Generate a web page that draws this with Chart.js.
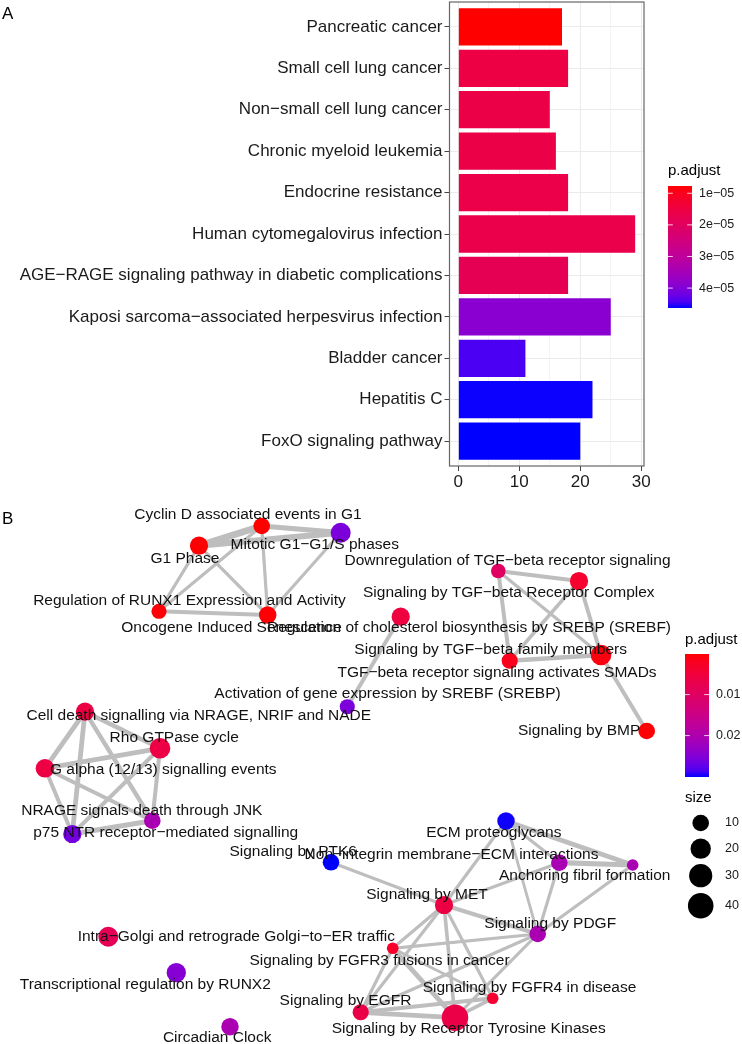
<!DOCTYPE html>
<html>
<head>
<meta charset="utf-8">
<script src="https://cdn.jsdelivr.net/npm/chart.js@4.4.1/dist/chart.umd.min.js"></script>
<style>
   html, body { margin: 0; padding: 0; background: #fff; }
   body { width: 742px; height: 1044px; position: relative; overflow: hidden; font-family: "Liberation Sans", Arial, sans-serif; }
   .caixa { position: absolute; left: 0; }
   #caixaA { top: 0; }
   #caixaB { top: 500px; }
   .letra { position: absolute; left: 2px; font-size: 17px; color: #000; }
</style>
</head>
<body>
<div class="caixa" id="caixaA"><canvas id="graficoA" width="742" height="492"></canvas></div>
<div class="caixa" id="caixaB"><canvas id="graficoB" width="742" height="544"></canvas></div>
<div class="letra" style="top:4px">A</div>
<div class="letra" style="top:509px">B</div>
<script>
// Dados do painel A (barplot de enriquecimento KEGG)
const termos = ['Pancreatic cancer', 'Small cell lung cancer', 'Non−small cell lung cancer', 'Chronic myeloid leukemia',
   'Endocrine resistance', 'Human cytomegalovirus infection', 'AGE−RAGE signaling pathway in diabetic complications',
   'Kaposi sarcoma−associated herpesvirus infection', 'Bladder cancer', 'Hepatitis C', 'FoxO signaling pathway'];
const contagem = [17, 18, 15, 16, 18, 29, 18, 25, 11, 22, 20];
const pAjustA = [7.7e-6, 1.55e-5, 1.6e-5, 1.6e-5, 1.62e-5, 1.66e-5, 1.8e-5, 3.9e-5, 4.44e-5, 4.62e-5, 4.63e-5];
const ticksA = [0, 10, 20, 30];
const ticksLegendaA = [1e-5, 2e-5, 3e-5, 4e-5];

// Dados do painel B (mapa de enriquecimento Reactome)
const vias = ['Cyclin D associated events in G1', 'Mitotic G1−G1/S phases', 'G1 Phase',
   'Regulation of RUNX1 Expression and Activity', 'Oncogene Induced Senescence',
   'Downregulation of TGF−beta receptor signaling', 'Signaling by TGF−beta Receptor Complex',
   'Regulation of cholesterol biosynthesis by SREBP (SREBF)', 'Signaling by TGF−beta family members',
   'TGF−beta receptor signaling activates SMADs', 'Signaling by BMP', 'Activation of gene expression by SREBF (SREBP)',
   'Cell death signalling via NRAGE, NRIF and NADE', 'Rho GTPase cycle', 'G alpha (12/13) signalling events',
   'NRAGE signals death through JNK', 'p75 NTR receptor−mediated signalling', 'Signaling by PTK6',
   'Intra−Golgi and retrograde Golgi−to−ER traffic', 'Transcriptional regulation by RUNX2', 'Circadian Clock',
   'ECM proteoglycans', 'Non−integrin membrane−ECM interactions', 'Anchoring fibril formation', 'Signaling by MET',
   'Signaling by PDGF', 'Signaling by FGFR3 fusions in cancer', 'Signaling by FGFR4 in disease',
   'Signaling by Receptor Tyrosine Kinases', 'Signaling by EGFR'];
// coordenadas do layout (unidades arbitrarias)
const posX = [26.17, 34.07, 19.90, 15.90, 26.77, 49.83, 57.90, 40.07, 50.97, 60.10, 64.67, 34.73, 8.50, 16.00, 4.50,
   15.23, 7.23, 33.10, 10.83, 17.63, 23.00, 50.60, 55.93, 63.27, 44.40, 53.77, 39.27, 49.27, 45.50, 36.07];
const posY = [2.60, 3.27, 4.57, 11.13, 11.50, 7.10, 8.10, 11.67, 16.07, 15.50, 23.10, 20.67, 21.17, 24.83, 26.83,
   32.07, 33.40, 36.23, 43.67, 47.27, 52.67, 32.10, 36.27, 36.50, 40.50, 43.40, 44.83, 49.83, 51.77, 51.23];
const tamanho = [10, 19, 14, 7, 12, 6, 14, 14, 9, 21, 10, 7, 14, 21, 15, 10, 14, 10, 19, 17, 12, 12, 10, 2, 14, 10, 2, 2, 44, 9];
const pAjustB = [0.0001, 0.0256, 0.0002, 0.0004, 0.0003, 0.0100, 0.0036, 0.0055, 0.0018, 0.0009, 0.0003, 0.0256,
   0.0060, 0.0062, 0.0061, 0.0205, 0.0262, 0.0301, 0.0085, 0.0247, 0.0205, 0.0300, 0.0206, 0.0207, 0.0060, 0.0205,
   0.0030, 0.0036, 0.0066, 0.0066];
// posicao dos rotulos (repel) no mesmo sistema do layout
const rotuloX = [24.80, 31.47, 18.50, 18.95, 23.16, 50.75, 50.88, 46.90, 49.07, 49.70, 57.92, 38.75, 19.88, 17.42, 16.33,
   14.18, 16.57, 29.32, 23.63, 14.53, 21.72, 49.38, 45.15, 58.47, 42.70, 55.02, 37.95, 52.95, 46.87, 34.55];
const rotuloY = [1.50, 4.50, 5.83, 10.10, 12.77, 6.10, 9.23, 12.77, 15.00, 17.23, 23.10, 19.40, 21.60, 23.73, 27.00,
   31.07, 33.23, 35.17, 43.67, 48.43, 53.77, 33.27, 35.50, 37.60, 39.43, 42.33, 46.07, 48.77, 52.90, 50.10];
// arestas: [no, no, similaridade]
const arestas = [
   [2, 0, .85], [2, 1, .75], [0, 1, .65], [2, 3, .4], [2, 4, .4], [0, 3, .4], [0, 4, .4], [1, 4, .4], [3, 4, .5],
   [5, 6, .5], [5, 8, .5], [5, 9, .4], [6, 8, .45], [6, 9, .5], [8, 9, .55], [9, 10, .5],
   [7, 11, .5],
   [12, 13, .55], [12, 14, .6], [12, 15, .55], [12, 16, .6], [13, 14, .6], [13, 15, .5], [13, 16, .5], [14, 15, .5],
   [14, 16, .5], [15, 16, .65],
   [17, 24, .4], [21, 23, .6], [22, 23, .65], [21, 22, .4], [21, 24, .4], [21, 25, .35], [22, 24, .4], [22, 25, .4],
   [23, 25, .4], [24, 25, .5], [24, 26, .4], [24, 29, .4], [24, 28, .45], [24, 27, .4], [26, 25, .4], [26, 28, .6],
   [26, 27, .35], [26, 29, .4], [25, 29, .4], [25, 28, .4], [29, 28, .6], [29, 27, .5], [28, 27, .45]
];
const ticksLegendaB = [0.01, 0.02];
const tamanhosLegenda = [10, 20, 30, 40];

const fonte = '"Liberation Sans", Arial, sans-serif';

// Gradiente vermelho -> azul em espaco Lab (como o ggplot)
function paraLinear(c) {
   c /= 255;
   return c <= 0.04045 ? c / 12.92 : Math.pow((c + 0.055) / 1.055, 2.4);
}
function paraSrgb(c) {
   const v = c <= 0.0031308 ? 12.92 * c : 1.055 * Math.pow(c, 1 / 2.4) - 0.055;
   return Math.round(Math.max(0, Math.min(1, v)) * 255);
}
function paraLab(r, g, b) {
   const R = paraLinear(r), G = paraLinear(g), B = paraLinear(b);
   const X = (0.4124564 * R + 0.3575761 * G + 0.1804375 * B) / 0.95047;
   const Y = 0.2126729 * R + 0.7151522 * G + 0.0721750 * B;
   const Z = (0.0193339 * R + 0.1191920 * G + 0.9503041 * B) / 1.08883;
   const f = t => t > 216 / 24389 ? Math.cbrt(t) : (24389 / 27 * t + 16) / 116;
   const fx = f(X), fy = f(Y), fz = f(Z);
   return [116 * fy - 16, 500 * (fx - fy), 200 * (fy - fz)];
}
function deLab(L, a, b) {
   const fy = (L + 16) / 116, fx = fy + a / 500, fz = fy - b / 200;
   const inv = t => t * t * t > 216 / 24389 ? t * t * t : (116 * t - 16) / (24389 / 27);
   const X = inv(fx) * 0.95047, Y = inv(fy), Z = inv(fz) * 1.08883;
   const R = 3.2404542 * X - 1.5371385 * Y - 0.4985314 * Z;
   const G = -0.9692660 * X + 1.8760108 * Y + 0.0415560 * Z;
   const B = 0.0556434 * X - 0.2040259 * Y + 1.0572252 * Z;
   return `rgb(${paraSrgb(R)},${paraSrgb(G)},${paraSrgb(B)})`;
}
const labVermelho = paraLab(255, 0, 0);
const labAzul = paraLab(0, 0, 255);
function corGradiente(t) {
   t = Math.max(0, Math.min(1, t));
   return deLab(
      labVermelho[0] + (labAzul[0] - labVermelho[0]) * t,
      labVermelho[1] + (labAzul[1] - labVermelho[1]) * t,
      labVermelho[2] + (labAzul[2] - labVermelho[2]) * t);
}

// Desenha a barra de cor da legenda p.adjust
function desenhaBarraCor(ctx, c, pMin, pMax, ticks, formata) {
   ctx.save();
   ctx.font = `15px ${fonte}`;
   ctx.fillStyle = '#000';
   ctx.textAlign = 'left';
   ctx.textBaseline = 'alphabetic';
   ctx.fillText('p.adjust', c.x, c.tituloY);
   const grad = ctx.createLinearGradient(0, c.y, 0, c.y + c.h);
   for (let i = 0; i <= 20; i++) grad.addColorStop(i / 20, corGradiente(i / 20));
   ctx.fillStyle = grad;
   ctx.fillRect(c.x, c.y, c.w, c.h);
   ctx.font = `12.5px ${fonte}`;
   ctx.textBaseline = 'middle';
   ticks.forEach(v => {
      const yy = c.y + (v - pMin) / (pMax - pMin) * c.h;
      ctx.strokeStyle = 'rgba(255,255,255,0.8)';
      ctx.lineWidth = 1;
      ctx.beginPath();
      ctx.moveTo(c.x, yy); ctx.lineTo(c.x + c.w / 5, yy);
      ctx.moveTo(c.x + c.w, yy); ctx.lineTo(c.x + c.w * 4 / 5, yy);
      ctx.stroke();
      ctx.fillStyle = '#1a1a1a';
      ctx.fillText(formata(v), c.x + c.w + 7, yy);
   });
   ctx.restore();
}

// ---------- Painel A ----------
const pMinA = Math.min(...pAjustA);
const pMaxA = Math.max(...pAjustA);
const coresA = pAjustA.map(p => corGradiente((p - pMinA) / (pMaxA - pMinA)));

const bordaPainel = {
   id: 'bordaPainel',
   afterDatasetsDraw(chart) {
      const { ctx, chartArea: a } = chart;
      ctx.save();
      ctx.strokeStyle = '#666';
      ctx.lineWidth = 1.2;
      ctx.strokeRect(a.left, a.top, a.right - a.left, a.bottom - a.top);
      ctx.restore();
   }
};
const legendaA = {
   id: 'legendaA',
   afterDraw(chart) {
      desenhaBarraCor(chart.ctx, { x: 668, y: 186, w: 24, h: 122, tituloY: 175 }, pMinA, pMaxA, ticksLegendaA,
         v => v.toExponential(0).replace('e-', 'e−0'));
   }
};

const chartA = new Chart(document.getElementById('graficoA'), {
   type: 'bar',
   data: {
      datasets: [{
         data: contagem.map((v, i) => ({ x: v, y: i })),
         backgroundColor: coresA,
         borderWidth: 0,
         categoryPercentage: 1,
         barPercentage: 0.9
      }]
   },
   options: {
      indexAxis: 'y',
      responsive: false,
      animation: false,
      devicePixelRatio: 1,
      layout: { padding: { top: 2, right: 98, left: 0, bottom: 0 } },
      plugins: { legend: { display: false }, tooltip: { enabled: false } },
      scales: {
         x: {
            type: 'linear',
            bounds: 'data',
            min: -1.45,
            max: 30.45,
            afterBuildTicks: s => { s.ticks = [0, 5, 10, 15, 20, 25, 30].map(v => ({ value: v })); },
            afterFit: s => { s.height = 26; },
            ticks: {
               callback: v => ticksA.includes(v) ? String(v) : '',
               font: { family: fonte, size: 17 },
               color: '#1a1a1a',
               padding: 1,
               maxRotation: 0,
               autoSkip: false
            },
            grid: {
               color: ctx => ticksA.includes(ctx.tick.value) ? '#EBEBEB' : '#F4F4F4',
               tickColor: ctx => ticksA.includes(ctx.tick.value) ? '#444' : 'rgba(0,0,0,0)',
               tickLength: 5
            },
            border: { display: false }
         },
         y: {
            type: 'linear',
            reverse: true,
            offset: false,
            bounds: 'data',
            min: -0.6,
            max: 10.6,
            afterBuildTicks: s => { s.ticks = termos.map((t, i) => ({ value: i })); },
            afterFit: s => { s.width = 449.5; s.paddingTop = 0; s.paddingBottom = 0; },
            ticks: {
               callback: v => termos[v],
               font: { family: fonte, size: 17 },
               color: '#1a1a1a',
               padding: 2,
               autoSkip: false
            },
            grid: { color: '#EBEBEB', tickColor: '#444', tickLength: 5, offset: false },
            border: { display: false }
         }
      }
   },
   plugins: [bordaPainel, legendaA]
});

// ---------- Painel B ----------
const pMinB = Math.min(...pAjustB);
const pMaxB = Math.max(...pAjustB);
const coresB = pAjustB.map(p => corGradiente((p - pMinB) / (pMaxB - pMinB)));
function raio(n) {
   return 3.8 + 1.423 * Math.sqrt(n);
}

const datasetsArestas = arestas.map(([a, b, s]) => ({
   type: 'line',
   data: [{ x: posX[a], y: posY[a] }, { x: posX[b], y: posY[b] }],
   borderColor: '#BEBEBE',
   borderWidth: 8 * s,
   pointRadius: 0,
   fill: false,
   order: 2
}));
const datasetNos = {
   type: 'bubble',
   data: vias.map((v, i) => ({ x: posX[i], y: posY[i], r: raio(tamanho[i]) })),
   backgroundColor: coresB,
   borderWidth: 0,
   order: 1
};

const rotulosB = {
   id: 'rotulosB',
   afterDatasetsDraw(chart) {
      const { ctx, scales: { x, y } } = chart;
      ctx.save();
      ctx.font = `15.5px ${fonte}`;
      ctx.fillStyle = '#111';
      ctx.textAlign = 'center';
      ctx.textBaseline = 'middle';
      vias.forEach((v, i) => ctx.fillText(v, x.getPixelForValue(rotuloX[i]), y.getPixelForValue(rotuloY[i])));
      ctx.restore();
   }
};
const legendaB = {
   id: 'legendaB',
   afterDraw(chart) {
      const ctx = chart.ctx;
      desenhaBarraCor(ctx, { x: 685, y: 154, w: 24, h: 123, tituloY: 144 }, pMinB, pMaxB, ticksLegendaB, v => String(v));
      ctx.save();
      ctx.font = `15px ${fonte}`;
      ctx.fillStyle = '#000';
      ctx.fillText('size', 685, 302);
      const ys = [323, 348.7, 375.7, 405.7];
      ctx.font = `12.5px ${fonte}`;
      ctx.textBaseline = 'middle';
      tamanhosLegenda.forEach((n, i) => {
         ctx.fillStyle = '#000';
         ctx.beginPath();
         ctx.arc(700.7, ys[i], raio(n), 0, Math.PI * 2);
         ctx.fill();
         ctx.fillStyle = '#1a1a1a';
         ctx.fillText(String(n), 725, ys[i]);
      });
      ctx.restore();
   }
};

const chartB = new Chart(document.getElementById('graficoB'), {
   type: 'bubble',
   data: { datasets: [...datasetsArestas, datasetNos] },
   options: {
      responsive: false,
      animation: false,
      devicePixelRatio: 1,
      layout: { padding: 0, autoPadding: false },
      plugins: { legend: { display: false }, tooltip: { enabled: false } },
      scales: {
         x: { type: 'linear', display: false, min: 0, max: 74.2 },
         y: { type: 'linear', display: false, min: 0, max: 54.4, reverse: true }
      }
   },
   plugins: [rotulosB, legendaB]
});
</script>
</body>
</html>
